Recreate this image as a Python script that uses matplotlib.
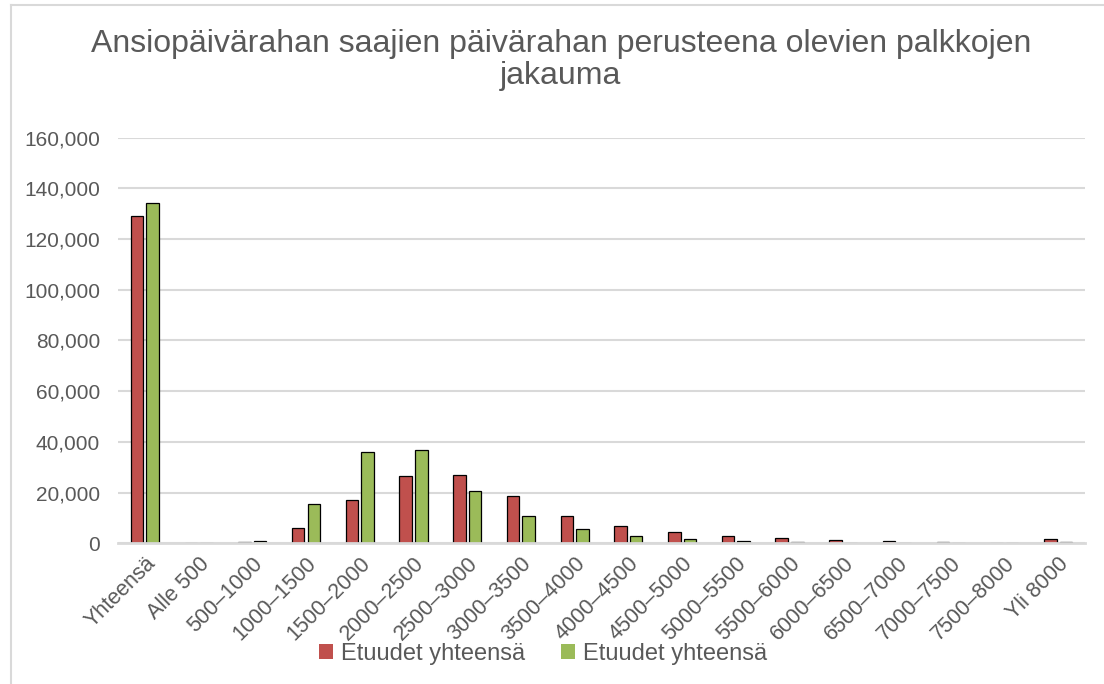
import matplotlib

matplotlib.use("Agg")

import matplotlib.pyplot as plt
from matplotlib.lines import Line2D
from matplotlib.patches import Patch
import numpy as np

categories = [
    "Yhteensä", "Alle 500", "500–1000", "1000–1500", "1500–2000", "2000–2500",
    "2500–3000", "3000–3500", "3500–4000", "4000–4500", "4500–5000", "5000–5500",
    "5500–6000", "6000–6500", "6500–7000", "7000–7500", "7500–8000", "Yli 8000",
]
red_values = [
    128900, 0, 400, 6100, 17200, 26700, 27100, 18600, 10900, 7000,
    4500, 2800, 2000, 1200, 800, 500, 300, 1600,
]
green_values = [
    134200, 0, 1000, 15300, 36000, 36900, 20600, 10800, 5600, 2700,
    1600, 800, 500, 250, 150, 80, 50, 350,
]
series_labels = ["Etuudet yhteensä", "Etuudet yhteensä"]
y_ticks = [0, 20000, 40000, 60000, 80000, 100000, 120000, 140000, 160000]

RED = "#c0504d"
GREEN = "#9bbb59"
TEXT = "#595959"
GRID = "#d9d9d9"

plt.rcParams["font.family"] = ["Liberation Sans", "DejaVu Sans"]

W, H = 1104, 684
fig = plt.figure(figsize=(W / 100, H / 100), dpi=100)
fig.patch.set_facecolor("white")

# chart frame (only left and top edge visible in the crop)
fig.add_artist(Line2D([11 / W, 11 / W], [0, 1 - 5 / H], color=GRID, lw=1.5))
fig.add_artist(Line2D([11 / W, 1], [1 - 5 / H, 1 - 5 / H], color=GRID, lw=1.5))

ax = fig.add_axes([118 / W, 1 - 543.3 / H, (1085 - 118) / W, (543.3 - 137.5) / H])

x = np.arange(len(categories))
width = 0.233
offset = 0.145
ax.bar(x - offset, red_values, width=width, color=RED, edgecolor="black", linewidth=0.9, zorder=3)
ax.bar(x + offset, green_values, width=width, color=GREEN, edgecolor="black", linewidth=0.9, zorder=3)

ax.set_xlim(-0.5, len(categories) - 0.5)
ax.set_ylim(0, 160000)
ax.set_yticks(y_ticks)
ax.set_yticklabels([f"{v:,}" for v in y_ticks])
ax.yaxis.grid(True, color=GRID, linewidth=1.5, zorder=0)
ax.set_axisbelow(True)
for name in ["left", "right", "top"]:
    ax.spines[name].set_visible(False)
ax.spines["bottom"].set_color(GRID)
ax.spines["bottom"].set_linewidth(2)
ax.spines["bottom"].set_zorder(4)

ax.tick_params(axis="y", length=0, pad=13, labelsize=15, labelcolor=TEXT)
ax.tick_params(axis="x", length=0, pad=7, labelsize=15.5, labelcolor=TEXT)
ax.set_xticks(x)
ax.set_xticklabels(categories, rotation=45, ha="right", va="top", rotation_mode="anchor")

fig.text(0.508, 1 - 60 / H, "Ansiopäivärahan saajien päivärahan perusteena olevien palkkojen\njakauma",
         ha="center", va="center", fontsize=23, color=TEXT, linespacing=1.1)

handles = [Patch(facecolor=RED, edgecolor="none"), Patch(facecolor=GREEN, edgecolor="none")]
fig.legend(handles, series_labels, loc="center", bbox_to_anchor=(543 / W, 1 - 654 / H),
           ncol=2, frameon=False, fontsize=17, labelcolor=TEXT, handlelength=0.6,
           handleheight=0.6, handletextpad=0.35, columnspacing=1.5)

fig.savefig("out.png", dpi=100, facecolor=fig.get_facecolor())
